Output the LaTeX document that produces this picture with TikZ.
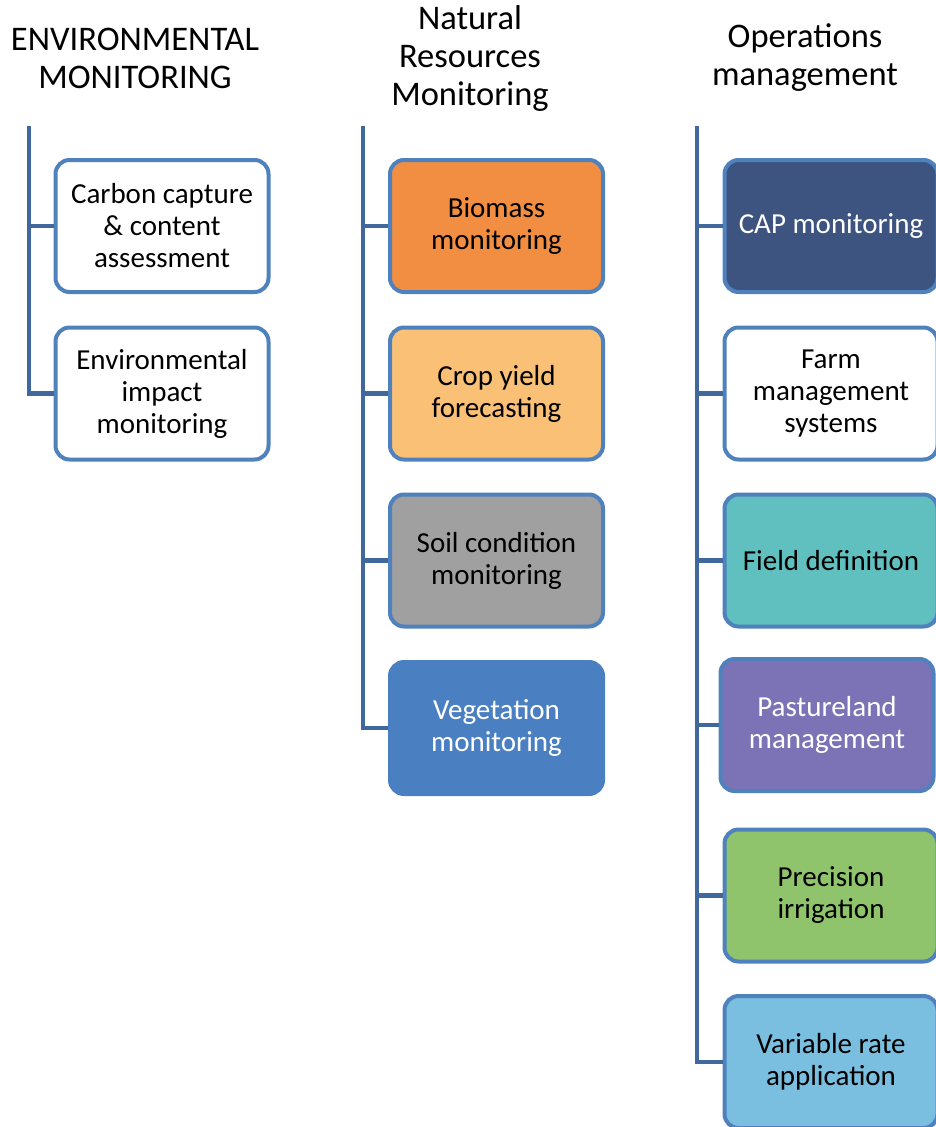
\documentclass[tikz,border=0pt]{standalone}
\usepackage{fontspec}
\setmainfont{Carlito}
\definecolor{edgeblue}{HTML}{4F81BD}
\definecolor{linkblue}{HTML}{41689C}
\definecolor{cbiomass}{HTML}{F28E41}
\definecolor{ccrop}{HTML}{FAC076}
\definecolor{csoil}{HTML}{A0A0A0}
\definecolor{cveg}{HTML}{4A80C2}
\definecolor{ccap}{HTML}{3D5480}
\definecolor{cfield}{HTML}{60C0BF}
\definecolor{cpasture}{HTML}{7B73B5}
\definecolor{cprec}{HTML}{8FC46D}
\definecolor{cvar}{HTML}{7ABEE0}
\tikzset{
  item/.style={draw=edgeblue, line width=4pt, rounded corners=14pt, fill=white,
    minimum width=213pt, minimum height=132pt, align=center,
    font=\fontsize{29}{32}\selectfont, inner sep=2pt},
  head/.style={align=center, font=\fontsize{34.5}{38}\selectfont, inner sep=0pt},
  link/.style={draw=linkblue, line width=4.5pt}
}
\begin{document}
\begin{tikzpicture}[x=1pt,y=-1pt]
\useasboundingbox (0,0) rectangle (936,1127);
\clip (0,0) rectangle (936,1127);
% headings
\node[head] (h1) at (135,58) {ENVIRONMENTAL\\MONITORING};
\node[head] (h2) at (470,58) {Natural\\Resources\\Monitoring};
\node[head] (h3) at (805,58) {Operations\\management};
% column 1
\coordinate (t1) at (29,126);
\node[item] (a1) at (162,226) {Carbon capture\\\& content\\assessment};
\node[item] (a2) at (162,393.5) {Environmental\\impact\\monitoring};
% column 2
\coordinate (t2) at (363,126);
\node[item, fill=cbiomass] (b1) at (496.5,226) {Biomass\\monitoring};
\node[item, fill=ccrop] (b2) at (496.5,393.5) {Crop yield\\forecasting};
\node[item, fill=csoil] (b3) at (496.5,560.5) {Soil condition\\monitoring};
\node[item, fill=cveg, draw=cveg, text=white] (b4) at (496.5,728) {Vegetation\\monitoring};
% column 3
\coordinate (t3) at (697,126);
\node[item, fill=ccap, text=white] (c1) at (831,226) {CAP monitoring};
\node[item] (c2) at (831,393.5) {Farm\\management\\systems};
\node[item, fill=cfield] (c3) at (831,560.5) {Field definition};
\node[item, fill=cpasture, text=white] (c4) at (827,725) {Pastureland\\management};
\node[item, fill=cprec] (c5) at (831,895.5) {Precision\\irrigation};
\node[item, fill=cvar] (c6) at (831,1062) {Variable rate\\application};
% connectors
\draw[link] (t1) |- (a1.west);
\draw[link] (t1) |- (a2.west);
\draw[link] (t2) |- (b1.west);
\draw[link] (t2) |- (b2.west);
\draw[link] (t2) |- (b3.west);
\draw[link] (t2) |- (b4.west);
\draw[link] (t3) |- (c1.west);
\draw[link] (t3) |- (c2.west);
\draw[link] (t3) |- (c3.west);
\draw[link] (t3) |- (c4.west);
\draw[link] (t3) |- (c5.west);
\draw[link] (t3) |- (c6.west);
\end{tikzpicture}
\end{document}
